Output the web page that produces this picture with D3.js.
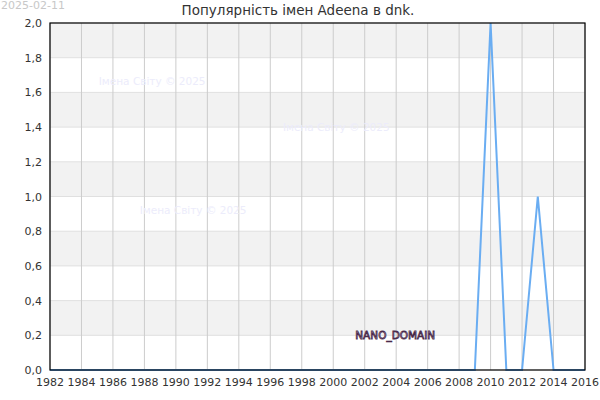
<!DOCTYPE html>
<html>
<head>
<meta charset="utf-8">
<script src="https://cdn.jsdelivr.net/npm/d3@7"></script>
<style>
  body { margin: 0; background: #fff; }
  text { font-family: "DejaVu Sans", sans-serif; }
</style>
</head>
<body>
<svg id="chart" width="600" height="400"></svg>
<script>
var years = [1982, 1983, 1984, 1985, 1986, 1987, 1988, 1989, 1990, 1991, 1992, 1993, 1994, 1995,
  1996, 1997, 1998, 1999, 2000, 2001, 2002, 2003, 2004, 2005, 2006, 2007, 2008, 2009, 2010,
  2011, 2012, 2013, 2014, 2015, 2016];
var counts = [0, 0, 0, 0, 0, 0, 0, 0, 0, 0, 0, 0, 0, 0,
  0, 0, 0, 0, 0, 0, 0, 0, 0, 0, 0, 0, 0, 0, 2,
  0, 0, 1, 0, 0, 0];
var xTicks = d3.range(1982, 2017, 2);
var yTicks = [0, 0.2, 0.4, 0.6, 0.8, 1.0, 1.2, 1.4, 1.6, 1.8, 2.0];
var title = "Популярність імен Adeena в dnk.";
var stamp = "2025-02-11";
var watermark = "Імена Світу © 2025";

var cfg = { left: 50, right: 585, top: 23, bottom: 370 };
var svg = d3.select("#chart");

var x = d3.scaleLinear().domain([1982, 2016]).range([cfg.left, cfg.right]);
var y = d3.scaleLinear().domain([0, 2]).range([cfg.bottom, cfg.top]);

// alternating bands
var bands = d3.range(0, yTicks.length - 1);
svg.selectAll(".band").data(bands).enter().append("rect")
  .attr("x", cfg.left)
  .attr("width", cfg.right - cfg.left)
  .attr("y", function(i) { return y(yTicks[i + 1]); })
  .attr("height", function(i) { return y(yTicks[i]) - y(yTicks[i + 1]); })
  .attr("fill", function(i) { return i % 2 === 1 ? "#f2f2f2" : "#fff"; });

// grid
svg.selectAll(".hgrid").data(yTicks).enter().append("line")
  .attr("x1", cfg.left).attr("x2", cfg.right)
  .attr("y1", function(d) { return y(d); }).attr("y2", function(d) { return y(d); })
  .attr("stroke", "#e0e0e0").attr("stroke-width", 1);
svg.selectAll(".vgrid").data(xTicks).enter().append("line")
  .attr("x1", function(d) { return x(d); }).attr("x2", function(d) { return x(d); })
  .attr("y1", cfg.top).attr("y2", cfg.bottom)
  .attr("stroke", "#cccccc").attr("stroke-width", 1);

// watermarks
var marks = [[1985.1, 1.64], [1996.8, 1.38], [1987.7, 0.9]];
svg.selectAll(".wm").data(marks).enter().append("text")
  .attr("x", function(d) { return x(d[0]); })
  .attr("y", function(d) { return y(d[1]); })
  .attr("font-size", 10.5)
  .attr("fill", "#ececfb")
  .text(watermark);

// line
var line = d3.line()
  .x(function(d, i) { return x(years[i]); })
  .y(function(d) { return y(d); });
svg.append("path").datum(counts)
  .attr("d", line)
  .attr("fill", "none")
  .attr("stroke", "#6aadf2")
  .attr("stroke-width", 2);

// frame
svg.append("rect")
  .attr("x", cfg.left).attr("y", cfg.top)
  .attr("width", cfg.right - cfg.left).attr("height", cfg.bottom - cfg.top)
  .attr("fill", "none").attr("stroke", "#000").attr("stroke-width", 1.2);

// axes labels
var fmt = function(d) { return d3.format(".1f")(d).replace(".", ","); };
svg.selectAll(".ylab").data(yTicks).enter().append("text")
  .attr("x", cfg.left - 8)
  .attr("y", function(d) { return y(d) + 4; })
  .attr("text-anchor", "end")
  .attr("font-size", 11)
  .attr("fill", "#333")
  .text(fmt);
svg.selectAll(".xlab").data(xTicks).enter().append("text")
  .attr("x", function(d) { return x(d); })
  .attr("y", cfg.bottom + 16)
  .attr("text-anchor", "middle")
  .attr("font-size", 11)
  .attr("fill", "#333")
  .text(function(d) { return d; });

// title and date
svg.append("text")
  .attr("x", 298).attr("y", 15)
  .attr("text-anchor", "middle")
  .attr("font-size", 13.5)
  .attr("fill", "#333")
  .text(title);
svg.append("text")
  .attr("x", 1).attr("y", 9)
  .attr("font-size", 11)
  .attr("fill", "#c8c8c8")
  .text(stamp);

// domain label
svg.append("text")
  .attr("x", x(2001.4)).attr("y", y(0.2) + 4)
  .attr("font-size", 10.5)
  .attr("fill", "#e6d8ee")
  .attr("stroke", "#4a2a4a")
  .attr("stroke-width", 0.8)
  .text("NANO_DOMAIN");
</script>
</body>
</html>
